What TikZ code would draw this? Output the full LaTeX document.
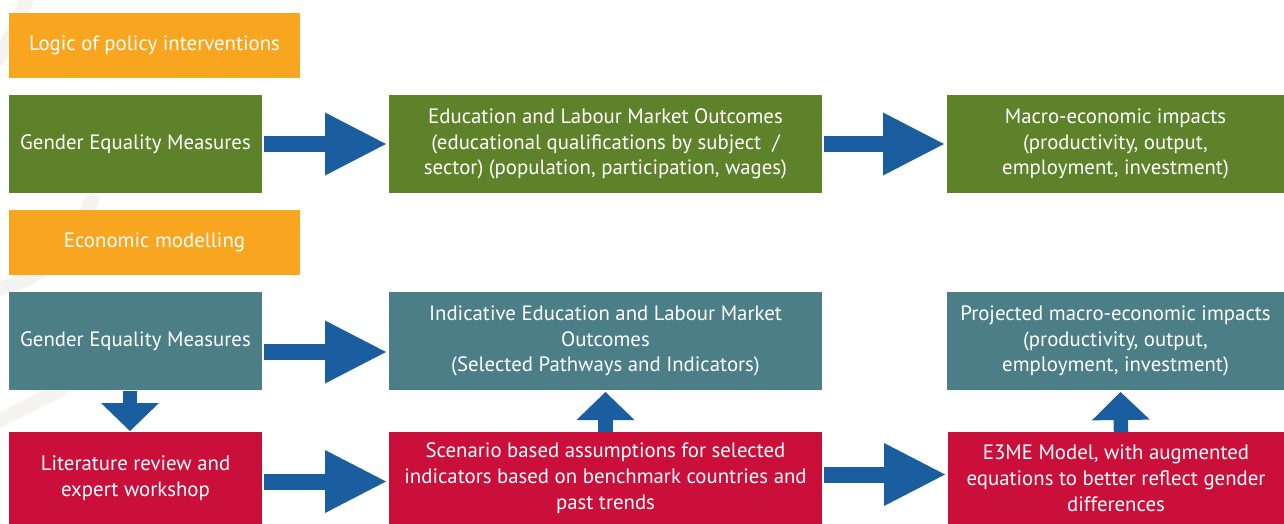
\documentclass[tikz,border=0pt]{standalone}
\usepackage{fontspec}
\setmainfont{PT Sans}
\usetikzlibrary{arrows.meta}
\definecolor{cOrange}{HTML}{F8A51F}
\definecolor{cGreen}{HTML}{5E8229}
\definecolor{cTeal}{HTML}{4B7E86}
\definecolor{cRed}{HTML}{CB0F3B}
\definecolor{cBlue}{HTML}{1B5E9F}
\definecolor{cWm}{HTML}{F4F3F0}
\begin{document}
\begin{tikzpicture}[x=1pt,y=-1pt,
  base/.style={inner sep=0pt, outer sep=0pt, align=center, text=white,
    font=\fontsize{20.8}{25.8}\selectfont},
  obox/.style={base, fill=cOrange, minimum width=291pt, minimum height=65pt},
  gbox/.style={base, fill=cGreen, minimum height=98pt},
  tbox/.style={base, fill=cTeal, minimum height=98pt},
  rbox/.style={base, fill=cRed, minimum height=92pt},
  blockh/.style={draw=cBlue, line width=16pt,
    -{Triangle[length=61pt,width=63pt,line width=0pt]},
    shorten <=2pt, shorten >=3pt},
  blockv/.style={draw=cBlue, line width=14.5pt,
    -{Triangle[length=28pt,width=58pt,line width=0pt]}},
  wm/.style={draw=cWm, line width=14pt, line cap=round}]
\useasboundingbox (0,0) rectangle (1284,524);
\fill[white] (0,0) rectangle (1284,524);
% faint watermark
\draw[wm] (-10,290) .. controls (40,284) and (70,250) .. (92,200);
\draw[wm] (-10,70) .. controls (10,40) and (20,20) .. (30,-10);
\draw[wm] (-10,425) -- (60,390);
% row 1
\node[obox] (o1) at (154.5,45.5) {Logic of policy interventions};
\node[gbox, minimum width=253pt] (g1) at (135.5,144) {Gender Equality Measures};
\node[gbox, minimum width=433pt] (g2) at (605.5,144) {Education and Labour Market Outcomes\\(educational qualifications by subject~~/\\sector) (population, participation, wages)};
\node[gbox, minimum width=337pt] (g3) at (1115.5,144) {Macro-economic impacts\\(productivity, output,\\employment, investment)};
% row 2
\node[obox] (o2) at (154.5,242.5) {Economic modelling};
\node[tbox, minimum width=253pt] (t1) at (135.5,341) {Gender Equality Measures};
\node[tbox, minimum width=433pt] (t2) at (605.5,341) {Indicative Education and Labour Market\\Outcomes\\(Selected Pathways and Indicators)};
\node[tbox, minimum width=337pt] (t3) at (1115.5,341) {Projected macro-economic impacts\\(productivity, output,\\employment, investment)};
% row 3
\node[rbox, minimum width=253pt] (r1) at (135.5,478) {Literature review and\\expert workshop};
\node[rbox, minimum width=433pt] (r2) at (605.5,478) {Scenario based assumptions for selected\\indicators based on benchmark countries and\\past trends};
\node[rbox, minimum width=336pt] (r3) at (1116,478) {E3ME Model, with augmented\\equations to better reflect gender\\differences};
% arrows
\draw[blockh] (g1.east) -- (g2.west);
\draw[blockh] (g2.east) -- (g3.west);
\draw[blockh] ([yshift=-11pt]t1.east) -- ([yshift=-11pt]t2.west);
\draw[blockh] ([yshift=-3.5pt]r1.east) -- ([yshift=-3.5pt]r2.west);
\draw[blockh] ([yshift=3.5pt]r2.east) -- ([yshift=3.5pt]r3.west);
\draw[blockv, shorten <=1pt, shorten >=1pt] ([xshift=-5.5pt]t1.south) -- ([xshift=-5.5pt]r1.north);
\draw[blockv, shorten >=2pt] (r2.north) -- (t2.south);
\draw[blockv, shorten >=2pt] ([xshift=5pt]r3.north) -- ([xshift=5pt]t3.south);
\end{tikzpicture}
\end{document}
